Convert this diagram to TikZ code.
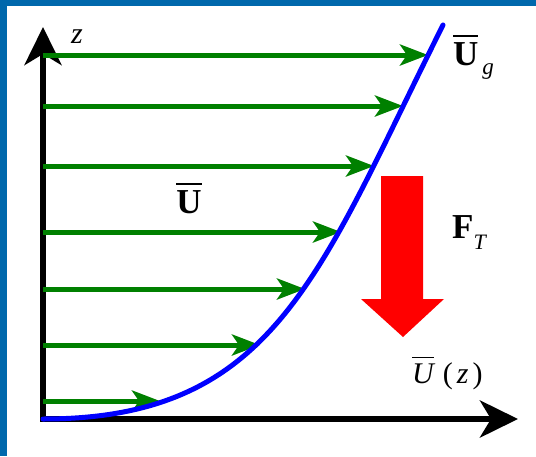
\documentclass[tikz,border=0pt]{standalone}
\usepackage{fontspec}
\setmainfont{Liberation Serif}
\definecolor{Frameblue}{RGB}{0,104,172}
\definecolor{Velgreen}{RGB}{0,128,0}
\usetikzlibrary{arrows.meta, positioning}
\newcommand\ovbar[2][0pt]{\sbox0{#2}\rlap{\hspace{#1}\rule[\dimexpr\ht0+5pt\relax]{\wd0}{1.6pt}}\usebox0}

\begin{document}
\begin{tikzpicture}[
  x=1pt, y=-1pt,
  axis/.style={line width=6pt, line join=miter,
               {Stealth[length=38pt, width=37pt, inset=11pt]}-{Stealth[length=38pt, width=37pt, inset=11pt]}},
  vel/.style={draw=Velgreen, line width=5pt,
              -{Stealth[length=28pt, width=21pt, inset=7pt]}},
  prof/.style={draw=blue, line width=5pt, line cap=round},
  lbl/.style={font=\fontsize{30}{35}\selectfont, inner sep=0pt},
  blbl/.style={font=\fontsize{35}{40}\selectfont\bfseries, inner sep=0pt}
]
\useasboundingbox (0,0) rectangle (536,456);
\fill[Frameblue] (0,0) rectangle (536,6);
\fill[Frameblue] (0,0) rectangle (7,456);

\coordinate (o)    at (43,419);
\coordinate (ztip) at (43,27);
\coordinate (xtip) at (518,419);
\draw[axis] (ztip) -- (o) -- (xtip);

\foreach \n/\y/\x in {1/55/428, 2/106/403, 3/166/374, 4/232/341,
                      5/289/305, 6/345/260, 7/401/160}{
  \coordinate (s\n) at (43,\y);
  \coordinate (e\n) at (\x,\y);
  \draw[vel] (s\n) -- (e\n);
}

\coordinate (top) at (443,25);
\draw[prof] (o) .. controls (275,419) and (318,275) .. (top);

\fill[red] (381,176) -- (423,176) -- (423,299) -- (444,299)
  -- (403,337) -- (361,299) -- (381,299) -- cycle;

\node[lbl, anchor=base] (zlab) at (77,43) {\itshape z};
\node[blbl, anchor=base west] (uglab) at (453,65)
  {\ovbar{U}\hspace{4pt}\raisebox{-9pt}{\fontsize{23}{27}\selectfont\mdseries\itshape g}};
\node[blbl, anchor=base] (ulab) at (189,213) {\ovbar{U}};
\node[blbl, anchor=base west] (flab) at (452,238)
  {F\raisebox{-11pt}{\fontsize{22}{26}\selectfont\mdseries\itshape T}};
\node[lbl, anchor=base west] (uzlab) at (412,383)
  {\ovbar{\itshape U}\hspace{9pt}(\hspace{4pt}\textit{z}\hspace{4pt})};
\end{tikzpicture}
\end{document}
